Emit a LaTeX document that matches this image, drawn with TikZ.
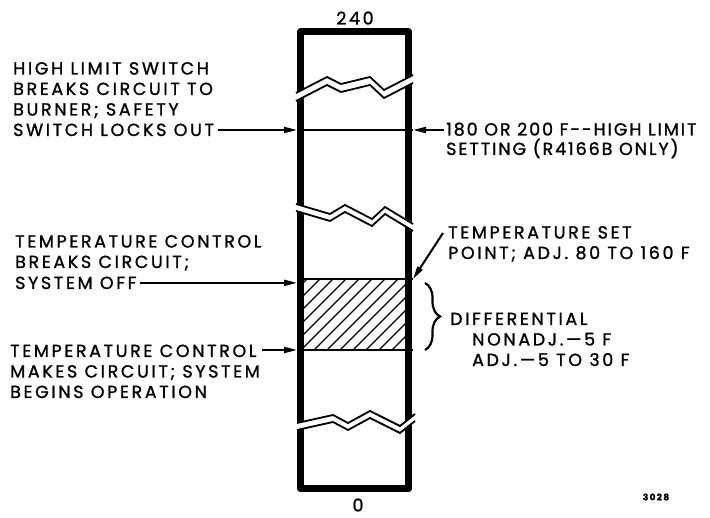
\documentclass[tikz,border=0pt]{standalone}
\usepackage{fontspec}
\setmainfont{Poppins}[LetterSpace=15, FakeBold=1.2]
\usetikzlibrary{arrows.meta,positioning,decorations.pathreplacing}

\begin{document}
\begin{tikzpicture}[x=1pt,y=-1pt,
  lbl/.style={font=\fontsize{17.5}{20.5}\selectfont, inner sep=0pt, align=left},
  bar/.style={line width=7pt, line join=round},
  lvl/.style={line width=2.2pt},
  brk/.style={line width=1.8pt},
  hatch/.style={line width=1.3pt},
  arr/.style={-{Triangle[length=13pt,width=6pt]}, line width=2pt}
]
\useasboundingbox (0,0) rectangle (710,518);

% the thermometer scale
\coordinate (hiL) at (297,130);
\coordinate (hiR) at (413,130);
\coordinate (spL) at (297,279);
\coordinate (spR) at (413,279);
\coordinate (dfL) at (297,350);
\coordinate (dfR) at (413,350);

\begin{scope}
  \clip (304,279) rectangle (405,350);
  \foreach \i in {0,...,16}
    \draw[hatch] (200+\i*13,360) -- ++(90,-90);
\end{scope}
\draw[lvl] (hiL) -- (hiR);
\draw[lvl] (spL) -- (spR);
\draw[lvl] (dfL) -- (dfR);
\draw[bar] (300.5,32) rectangle (408.5,489);

% breaks
\fill[white] (295,93) -- (327,77) -- (341,84) -- (370,77) -- (384,90) -- (415,75) -- (415,83) -- (384,98) -- (370,85) -- (341,92) -- (327,85) -- (295,101) -- cycle;
\draw[brk] (296,93) -- (327,77) -- (341,84) -- (370,77) -- (384,90) -- (413,75);
\draw[brk] (296,101) -- (327,85) -- (341,92) -- (370,85) -- (384,98) -- (413,83);

\fill[white] (295,204) -- (330,214) -- (345,205) -- (372,219) -- (385,207) -- (415,224) -- (415,231) -- (385,214) -- (372,226) -- (345,212) -- (330,221) -- (295,211) -- cycle;
\draw[brk] (296,204) -- (330,214) -- (345,205) -- (372,219) -- (385,207) -- (413,224);
\draw[brk] (296,211) -- (330,221) -- (345,212) -- (372,226) -- (385,214) -- (413,231);

\fill[white] (295,423) -- (333,415) -- (348,423) -- (370,411) -- (400,426) -- (417,413) -- (417,420) -- (400,433) -- (370,418) -- (348,430) -- (333,422) -- (295,430) -- cycle;
\draw[brk] (297,423) -- (333,415) -- (348,423) -- (370,411) -- (400,426) -- (415,414);
\draw[brk] (297,430) -- (333,422) -- (348,430) -- (370,418) -- (400,433) -- (415,421);

% labels (base anchor sits on the last line)
\node[lbl] (top) at (355,18) {240};
\node[lbl] (bot) at (358,505) {0};
\node[lbl, anchor=base west] (hl) at (13,136) {HIGH LIMIT SWITCH\\BREAKS CIRCUIT TO\\BURNER; SAFETY\\SWITCH LOCKS OUT};
\node[lbl, anchor=base west, font=\fontsize{17.5}{19.5}\selectfont\addfontfeature{LetterSpace=11}] (hs) at (446,155) {180 OR 200 F{-}{-}HIGH LIMIT\\SETTING (R4166B ONLY)};
\node[lbl, anchor=base west] (tcb) at (15,268) {TEMPERATURE CONTROL\\BREAKS CIRCUIT;};
\node[lbl, anchor=base west] (off) at (15,289) {SYSTEM OFF};
\node[lbl, anchor=base west] (tcm) at (10,398) {TEMPERATURE CONTROL\\MAKES CIRCUIT; SYSTEM\\BEGINS OPERATION};
\node[lbl, anchor=base west] (sp) at (448,259) {TEMPERATURE SET\\POINT; ADJ. 80 TO 160 F};
\node[lbl, anchor=base west] (dif) at (450,366) {DIFFERENTIAL\\\hspace*{22pt}NONADJ.—5 F\\\hspace*{22pt}ADJ.—5 TO 30 F};
\node[font=\fontsize{9}{10}\selectfont\bfseries, inner sep=0pt] (fig) at (656,497) {3028};

% arrows and brace
\draw[arr] ([xshift=4pt]hl.east |- hiL) -- (hiL);
\draw[arr] ([xshift=-2pt]hs.west |- hiR) -- (hiR);
\draw[arr] ([xshift=3pt]off.east) -- (off.east -| spL);
\draw[arr] ([xshift=2pt]tcm.east |- dfL) -- (dfL);
\draw[arr] ([shift={(-5pt,26pt)}]sp.base west) -- (spR);
\draw[line width=2.2pt, decorate, decoration={brace, amplitude=15pt}] (425,283) -- (425,350);
\end{tikzpicture}
\end{document}
